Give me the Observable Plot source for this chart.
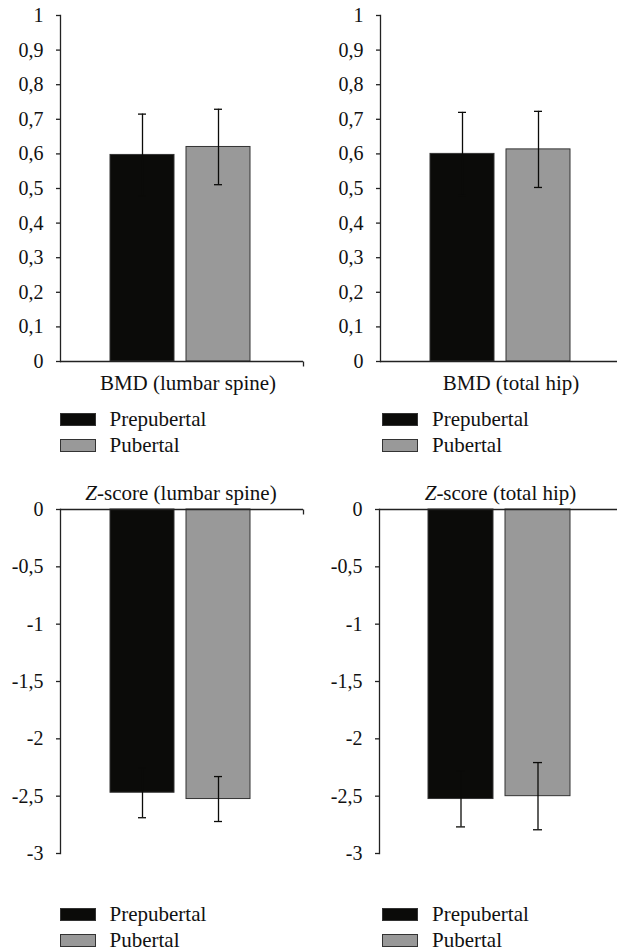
<!DOCTYPE html>
<html><head><meta charset="utf-8">
<script src="https://cdn.jsdelivr.net/npm/d3@7"></script>
<script src="https://cdn.jsdelivr.net/npm/@observablehq/plot@0.6"></script>
<style>
body{margin:0;background:#fff;}
#root{position:relative;width:617px;height:952px;overflow:hidden;font-family:"Liberation Serif","Times New Roman",serif;}
.panel{position:absolute;}
.legend{position:absolute;font-size:21px;color:#111;}
.row{display:flex;align-items:center;height:21px;margin-bottom:5px;}
.sw{width:36px;height:13px;box-sizing:border-box;border:1px solid #333;margin-right:14px;}
</style></head><body><div id="root"></div>
<script>
const groups = ["Prepubertal", "Pubertal"];
const groupColors = ["#0b0b09", "#999999"];

const bmdLumbarMean = [0.597, 0.620];
const bmdLumbarSD = [0.118, 0.109];
const bmdHipMean = [0.600, 0.613];
const bmdHipSD = [0.120, 0.110];
const zLumbarMean = [-2.47, -2.525];
const zLumbarSD = [0.218, 0.196];
const zHipMean = [-2.525, -2.50];
const zHipSD = [0.243, 0.293];

const bmdTicks = [0, 0.1, 0.2, 0.3, 0.4, 0.5, 0.6, 0.7, 0.8, 0.9, 1];
const zTicks = [0, -0.5, -1, -1.5, -2, -2.5, -3];

const panelLabels = ["BMD (lumbar spine)", "BMD (total hip)", "Z-score (lumbar spine)", "Z-score (total hip)"];

const FONT = "'Liberation Serif', 'Times New Roman', serif";
const root = document.getElementById("root");
const fmt = d => String(d).replace(".", ",");
const endTick = {draw(ctx, size) { const l = Math.sqrt(size / Math.PI); ctx.moveTo(0, 0); ctx.lineTo(0, l); }};

function panel({means, sds, label, ticks, domain, left, top, width, marginLeft, marginRight, marginTop, marginBottom, paddingOuter, align, labelAnchor, labelDy, labelDx, showEnd}) {
  const rows = groups.map((g, i) => ({group: g, mean: means[i], sd: sds[i], color: groupColors[i]}));
  const marks = [
    Plot.barY(rows, {x: "group", y1: 0, y2: "mean", fill: "color", stroke: "#333", strokeWidth: 1}),
    Plot.ruleX(rows, {x: "group", y1: d => d.mean - d.sd, y2: d => d.mean + d.sd, stroke: "#0b0b09", strokeWidth: 1.3}),
    Plot.tickY(rows, {x: "group", y: d => d.mean + d.sd, insetLeft: 28, insetRight: 28, stroke: "#0b0b09", strokeWidth: 1.3}),
    Plot.tickY(rows, {x: "group", y: d => d.mean - d.sd, insetLeft: 28, insetRight: 28, stroke: "#0b0b09", strokeWidth: 1.3}),
    Plot.ruleY([0], {stroke: "#222", strokeWidth: 1.3}),
    Plot.frame({anchor: "left", stroke: "#222", strokeWidth: 1.3}),
    Plot.axisY({ticks, tickSize: 4, tickPadding: 13, tickFormat: fmt, stroke: "#222", strokeWidth: 1.3, fill: "#111", label: null}),
    Plot.text([label], {frameAnchor: labelAnchor, lineAnchor: "middle", dy: labelDy, dx: labelDx, fontSize: 21, fill: "#111"})
  ];
  if (showEnd) marks.push(Plot.dot([0], {x: null, y: null, frameAnchor: labelAnchor === "bottom" ? "bottom-right" : "top-right", symbol: endTick, r: 5, stroke: "#222", strokeWidth: 1.3, fill: "none"}));
  const svg = Plot.plot({
    width, height: 400, marginLeft, marginRight, marginTop, marginBottom,
    style: {fontFamily: FONT, fontSize: "20px", background: "white", overflow: "visible"},
    x: {domain: groups, paddingInner: 0.16, paddingOuter, align, axis: null},
    y: {domain},
    marks
  });
  svg.querySelectorAll("text").forEach(t => {
    if (t.textContent.startsWith("Z-score")) {
      const rest = t.textContent.slice(1);
      t.textContent = "";
      const ns = "http://www.w3.org/2000/svg";
      const a = document.createElementNS(ns, "tspan"); a.setAttribute("font-style", "italic"); a.textContent = "Z";
      const b = document.createElementNS(ns, "tspan"); b.textContent = rest;
      t.appendChild(a); t.appendChild(b);
    }
  });
  const div = document.createElement("div");
  div.className = "panel";
  div.style.left = left + "px"; div.style.top = top + "px";
  div.appendChild(svg);
  root.appendChild(div);
}

panel({means: bmdLumbarMean, sds: bmdLumbarSD, label: panelLabels[0], ticks: bmdTicks, domain: [0, 1],
  left: 0, top: 0, width: 308, marginLeft: 60, marginRight: 5, marginTop: 15, marginBottom: 39,
  paddingOuter: 0.66, align: 0.48, labelAnchor: "bottom", labelDy: 22, labelDx: 6, showEnd: true});
panel({means: bmdHipMean, sds: bmdHipSD, label: panelLabels[1], ticks: bmdTicks, domain: [0, 1],
  left: 308, top: 0, width: 309, marginLeft: 72, marginRight: 0, marginTop: 15, marginBottom: 39,
  paddingOuter: 0.62, align: 0.51, labelAnchor: "bottom", labelDy: 22, labelDx: 12, showEnd: false});
panel({means: zLumbarMean, sds: zLumbarSD, label: panelLabels[2], ticks: zTicks, domain: [-3, 0],
  left: 0, top: 470, width: 308, marginLeft: 60, marginRight: 5, marginTop: 39, marginBottom: 17,
  paddingOuter: 0.66, align: 0.48, labelAnchor: "top", labelDy: -16, labelDx: -1, showEnd: true});
panel({means: zHipMean, sds: zHipSD, label: panelLabels[3], ticks: zTicks, domain: [-3, 0],
  left: 308, top: 470, width: 309, marginLeft: 71, marginRight: 0, marginTop: 39, marginBottom: 17,
  paddingOuter: 0.62, align: 0.51, labelAnchor: "top", labelDy: -16, labelDx: 2, showEnd: false});

function legend(left, top) {
  const div = document.createElement("div");
  div.className = "legend";
  div.style.left = left + "px"; div.style.top = top + "px";
  groups.forEach((g, i) => {
    const row = document.createElement("div"); row.className = "row";
    const sw = document.createElement("div"); sw.className = "sw"; sw.style.background = groupColors[i];
    const tx = document.createElement("span"); tx.textContent = g;
    row.appendChild(sw); row.appendChild(tx); div.appendChild(row);
  });
  root.appendChild(div);
}
legend(59.5, 409); legend(382, 409); legend(59.5, 904); legend(382, 904);
</script></body></html>
